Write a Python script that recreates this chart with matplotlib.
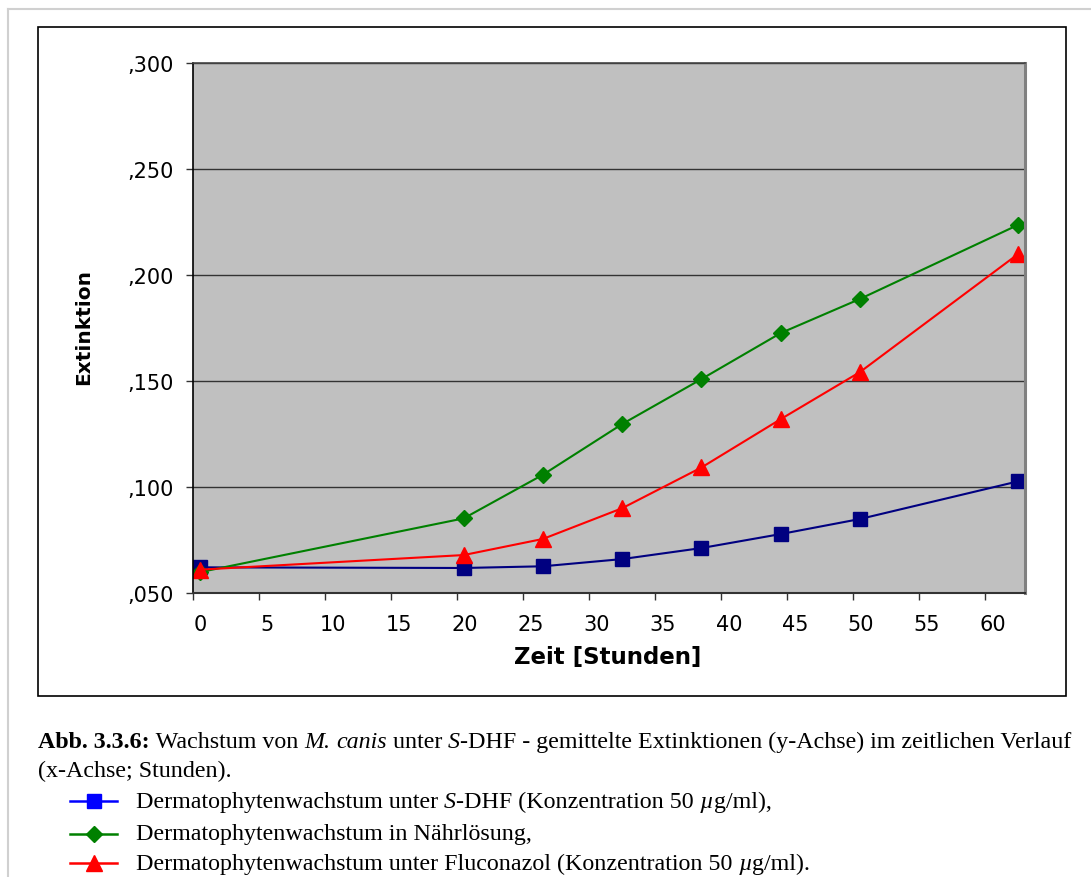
import matplotlib
matplotlib.use("Agg")
import matplotlib.pyplot as plt
from matplotlib.lines import Line2D
from matplotlib.patches import Rectangle
from matplotlib.font_manager import FontProperties
import matplotlib.transforms as mtransforms

# data
hours = [0.5, 20.5, 26.5, 32.5, 38.5, 44.5, 50.5, 62.5]
sdhf = [0.0621, 0.0618, 0.0626, 0.0660, 0.0712, 0.0778, 0.0849, 0.1027]
naehr = [0.0598, 0.0852, 0.1058, 0.1297, 0.1509, 0.1726, 0.1887, 0.2237]
flucon = [0.0610, 0.0679, 0.0755, 0.0900, 0.1092, 0.1320, 0.1542, 0.2100]
xticks = list(range(0, 65, 5))
yticks = [0.05, 0.10, 0.15, 0.20, 0.25, 0.30]
ylabels = [",050", ",100", ",150", ",200", ",250", ",300"]

W, H = 1091, 878
fig = plt.figure(figsize=(W / 100, H / 100), dpi=100)

# page frame + chart box
fig.add_artist(Line2D([8 / W, 8 / W], [0, 1 - 10 / H], transform=fig.transFigure, color="#d0d0d0", lw=1.5))
fig.add_artist(Line2D([8 / W, 1], [1 - 10 / H, 1 - 10 / H], transform=fig.transFigure, color="#d0d0d0", lw=1.5))
fig.add_artist(Rectangle((38 / W, 1 - 697 / H), 1028 / W, 669 / H, transform=fig.transFigure,
                         fill=False, ec="black", lw=1.2))

ax = fig.add_axes([193 / W, 1 - 594 / H, 832 / W, 530 / H])
ax.set_facecolor("#c0c0c0")
ax.plot(hours, sdhf, color="#000080", lw=1.5, marker="s", ms=10)
ax.plot(hours, naehr, color="#008000", lw=1.5, marker="D", ms=8.5)
ax.plot(hours, flucon, color="#ff0000", lw=1.5, marker="^", ms=11.5)

ax.set_xlim(0, 63)
ax.set_ylim(0.05, 0.30)
ax.set_yticks(yticks)
ax.set_yticklabels(ylabels)
ax.set_xticks(xticks)
ax.set_xticklabels([str(t) for t in xticks])
ax.tick_params(axis="both", direction="out", length=5, width=1, labelsize=15, pad=9, color="#333333")
ax.tick_params(axis="x", pad=10)
for lab in ax.get_xticklabels():
    lab.set_transform(lab.get_transform() + mtransforms.ScaledTranslation(7.5 / 100, 0, fig.dpi_scale_trans))
ax.yaxis.grid(True, color="#333333", lw=1.0)
ax.set_axisbelow(True)
ax.spines["left"].set_color("black")
ax.spines["left"].set_linewidth(1.2)
ax.spines["bottom"].set_color("#333333")
ax.spines["bottom"].set_linewidth(1.5)
ax.spines["top"].set_color("#444444")
ax.spines["top"].set_linewidth(1.2)
ax.spines["right"].set_color("#808080")
ax.spines["right"].set_linewidth(2.2)

ax.set_ylabel("Extinktion", fontsize=14.5, fontweight="bold")
ax.yaxis.set_label_coords(-0.120, 0.504)
ax.set_xlabel("Zeit [Stunden]", fontsize=16.5, fontweight="bold")
ax.xaxis.set_label_coords(0.499, -0.098)

# caption below the chart
renderer = fig.canvas.get_renderer()
ser = "Liberation Serif"
fs = 17.3


def seg_width(s, prop):
    w1, _, _ = renderer.get_text_width_height_descent("|" + s + "|", prop, ismath=False)
    w0, _, _ = renderer.get_text_width_height_descent("||", prop, ismath=False)
    return w1 - w0


def write_line(x_px, y_px, parts):
    x = x_px
    for s, style, weight in parts:
        prop = FontProperties(family=ser, size=fs, style=style, weight=weight)
        fig.text(x / W, 1 - y_px / H, s, fontproperties=prop, ha="left", va="baseline")
        x += seg_width(s, prop)


write_line(38, 748, [("Abb. 3.3.6:", "normal", "bold"),
                     (" Wachstum von ", "normal", "normal"),
                     ("M.", "italic", "normal"),
                     (" ", "normal", "normal"),
                     ("canis", "italic", "normal"),
                     (" unter ", "normal", "normal"),
                     ("S", "italic", "normal"),
                     ("-DHF - gemittelte Extinktionen (y-Achse) im zeitlichen Verlauf", "normal", "normal")])
write_line(38, 777, [("(x-Achse; Stunden).", "normal", "normal")])

legend_rows = [
    ("#0000ff", "s", 9.5, 802, 808, [("Dermatophytenwachstum unter ", "normal", "normal"),
                                     ("S", "italic", "normal"),
                                     ("-DHF (Konzentration 50 ", "normal", "normal"),
                                     ("\u00b5", "italic", "normal"),
                                     ("g/ml),", "normal", "normal")]),
    ("#008000", "D", 8, 835, 840, [("Dermatophytenwachstum in N\u00e4hrl\u00f6sung,", "normal", "normal")]),
    ("#ff0000", "^", 11, 864, 870, [("Dermatophytenwachstum unter Fluconazol (Konzentration 50 ", "normal", "normal"),
                                    ("\u00b5", "italic", "normal"),
                                    ("g/ml).", "normal", "normal")]),
]
for col, mk, ms, yc, yb, parts in legend_rows:
    fig.add_artist(Line2D([70 / W, 117 / W], [1 - yc / H, 1 - yc / H], transform=fig.transFigure,
                          color=col, lw=1.8))
    fig.add_artist(Line2D([93.5 / W], [1 - yc / H], transform=fig.transFigure,
                          color=col, marker=mk, ms=ms, lw=0))
    write_line(136, yb, parts)

fig.savefig("out.png", dpi=100)
